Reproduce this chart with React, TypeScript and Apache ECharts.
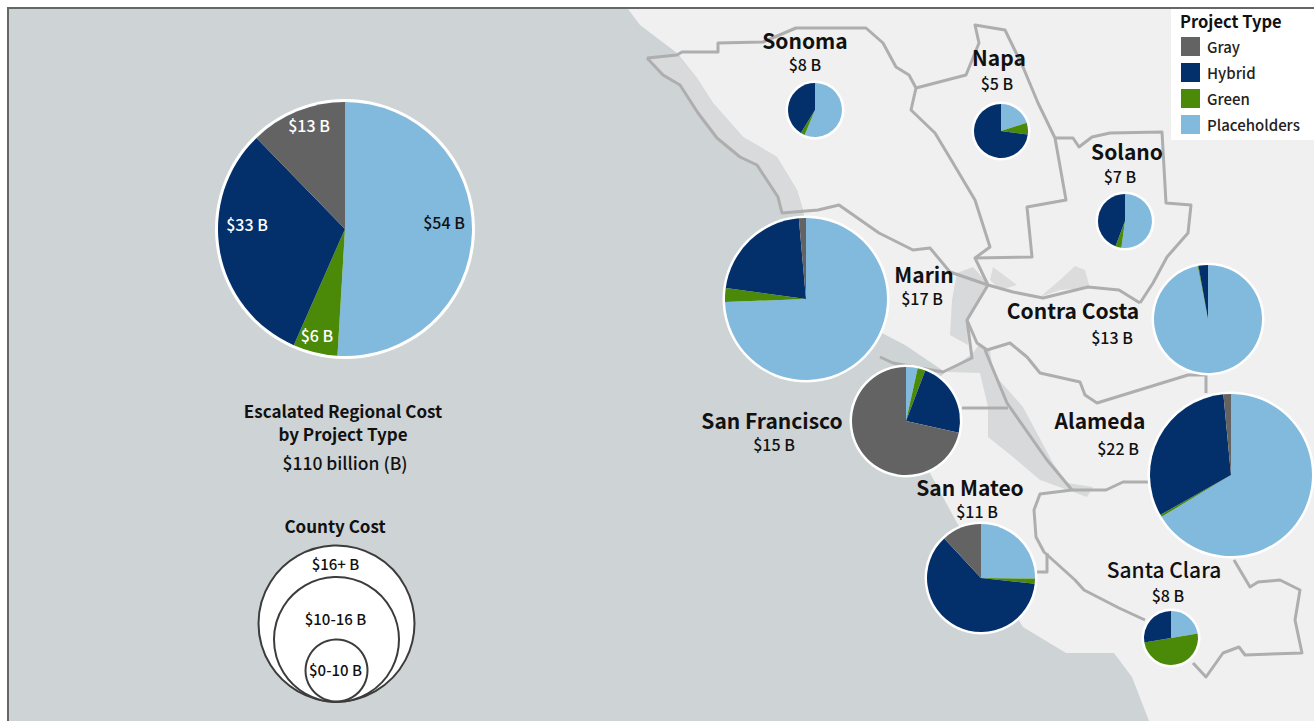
import React, { useEffect, useRef } from "react";
import * as echarts from "echarts";

const FONT = '"Noto Sans CJK JP", "Noto Sans", sans-serif';

// ---- data ($ billions)
const projectTypes = ["Placeholders", "Green", "Hybrid", "Gray"];
const legendOrder = ["Gray", "Hybrid", "Green", "Placeholders"];
const typeColors = ["#82badd", "#4a8a08", "#03306b", "#636363"];

const regionValues = [54, 6, 33, 13];
const regionLabels = ["$54 B", "$6 B", "$33 B", "$13 B"];

const counties = ["Sonoma", "Napa", "Solano", "Marin", "Contra Costa", "San Francisco", "San Mateo", "Alameda", "Santa Clara"];
const countyTotals = ["$8 B", "$5 B", "$7 B", "$17 B", "$13 B", "$15 B", "$11 B", "$22 B", "$8 B"];
const placeholders = [4.5, 1.0, 3.65, 12.65, 12.6, 0.52, 2.77, 14.6, 1.79];
const green = [0.2, 0.35, 0.25, 0.47, 0.03, 0.35, 0.17, 0.1, 4.0];
const hybrid = [3.3, 3.65, 3.1, 3.64, 0.37, 3.4, 6.75, 6.97, 2.21];
const gray = [0, 0, 0, 0.24, 0, 10.73, 1.31, 0.33, 0];

// ---- layout
const countyCenters = [[815, 110], [1001, 131], [1125, 221], [806, 299], [1208, 319], [906, 421], [981, 578], [1231, 475], [1171, 638]];
const countyRadii = [27, 27, 27, 81, 54, 54, 54, 81, 27];
const nameAnchors = [[805, 40], [999, 57], [1127, 151], [924, 274], [1073, 310], [772, 420], [970, 487], [1100, 420], [1164, 569]];
const totalAnchors = [[805, 64], [997, 83], [1120, 176], [922, 298], [1112, 337], [774, 444], [977, 511], [1118, 448], [1168, 595]];
const regionLabelAnchors = [[444, 222], [317, 335], [247, 224], [309, 125]];

// ---- basemap geometry
const land = [[628, 9], [1314, 9], [1314, 721], [1149, 721], [1132, 677], [1114, 653], [1066, 653], [1023, 627], [957, 523], [931, 475], [900, 420], [945, 372], [905, 345], [880, 332], [820, 300], [803, 210], [797, 190], [777, 157], [743, 137], [713, 103], [697, 78], [677, 53], [640, 25]];
const coastStrip = [[677, 55], [697, 78], [713, 103], [743, 137], [777, 157], [797, 190], [803, 210], [782, 213], [778, 197], [757, 165], [740, 157], [717, 138], [698, 113], [680, 85], [663, 75], [650, 60]];
const bayMouth = [[952, 300], [957, 273], [973, 267], [988, 284], [967, 320], [968, 345], [950, 335]];
const bayCentral = [[947, 372], [973, 353], [980, 343], [990, 350], [993, 373], [1023, 407], [1053, 463], [1067, 483], [1093, 487], [1087, 497], [1040, 480], [1013, 457], [988, 437], [988, 407], [980, 373]];
const straitEast = [[1040, 297], [1060, 280], [1075, 266], [1085, 270], [1090, 288], [1060, 290]];
const straitNorth = [[993, 267], [1017, 285], [1000, 290], [990, 280]];
const countyLines = [
  [[647, 58], [677, 55], [682, 52], [718, 52], [718, 43], [763, 42], [796, 28], [866, 28], [883, 43], [896, 67], [909, 75], [916, 88], [911, 110], [935, 133], [953, 163], [975, 200], [990, 247], [975, 258], [988, 285], [1013, 292], [1043, 298], [1088, 287], [1119, 290], [1140, 303]],
  [[647, 58], [663, 75], [680, 85], [698, 113], [717, 138], [740, 157], [757, 165], [778, 197], [782, 213], [818, 210], [839, 205], [879, 233], [913, 250], [930, 248], [950, 272], [988, 285]],
  [[916, 88], [966, 75], [979, 43], [975, 25], [1005, 30], [1023, 67], [1038, 103], [1055, 138], [1066, 200], [1027, 207], [1032, 257], [975, 258]],
  [[1055, 138], [1073, 138], [1079, 147], [1092, 137], [1110, 133], [1162, 132], [1166, 203], [1191, 205], [1188, 233], [1167, 257], [1153, 283], [1140, 303]],
  [[988, 285], [967, 320], [972, 358], [943, 372], [893, 363], [880, 357]],
  [[962, 408], [1008, 408]],
  [[967, 320], [977, 343], [987, 350], [1010, 343], [1027, 357], [1040, 373], [1080, 382], [1085, 395], [1097, 403], [1188, 375], [1206, 375], [1206, 393]],
  [[985, 350], [1007, 403], [1047, 460], [1072, 490]],
  [[1072, 490], [1106, 490], [1123, 482], [1150, 482]],
  [[1072, 490], [1040, 494], [1034, 510], [1036, 537], [1044, 552], [1075, 580], [1084, 590], [1119, 608], [1145, 620]],
  [[1036, 572], [1047, 572], [1047, 553]],
  [[1193, 663], [1206, 677], [1223, 653], [1239, 647], [1245, 655], [1302, 653], [1295, 620], [1300, 590], [1280, 580], [1258, 582], [1250, 587], [1234, 560]],
];

const bubbles = [
  { cx: 336.5, cy: 623.5, r: 78, label: "$16+ B", ly: 564 },
  { cx: 336.5, cy: 639.5, r: 62.5, label: "$10-16 B", ly: 619 },
  { cx: 336.5, cy: 670.5, r: 31, label: "$0-10 B", ly: 670 },
];

const txt = (x: number, y: number, text: string, size: number, weight: any, fill = "#111", align = "center", z = 10) => ({
  type: "text", x, y, z, silent: true,
  style: { text, fill, font: `${weight} ${size}px ${FONT}`, textAlign: align, textVerticalAlign: "middle" },
});
const poly = (points: number[][], fill: string, z = 0) => ({ type: "polygon", z, silent: true, shape: { points }, style: { fill } });

function buildOption() {
  const graphics: any[] = [
    { type: "rect", z: 0, silent: true, shape: { x: 8, y: 9, width: 1306, height: 712 }, style: { fill: "#ced3d5" } },
    poly(land, "#f0f0f0"),
    poly(coastStrip, "#d9dadb"),
    poly(bayMouth, "#d8d9da"),
    poly(bayCentral, "#d8d9da"),
    poly(straitEast, "#dcdcdd"),
    poly(straitNorth, "#dcdcdd"),
  ];
  countyLines.forEach((points) =>
    graphics.push({ type: "polyline", z: 0, silent: true, shape: { points }, style: { stroke: "#aeaeae", lineWidth: 3, fill: "none", lineJoin: "round" } })
  );
  graphics.push(
    { type: "rect", z: 0, silent: true, shape: { x: 7, y: 7, width: 1307, height: 2 }, style: { fill: "#666666" } },
    { type: "rect", z: 0, silent: true, shape: { x: 7, y: 7, width: 2, height: 714 }, style: { fill: "#666666" } },
    { type: "rect", z: 3, silent: true, shape: { x: 1171, y: 9, width: 143, height: 131 }, style: { fill: "#ffffff" } },
    txt(1180, 21, "Project Type", 16.5, 700, "#111", "left"),
  );
  // white halos under the pies
  countyCenters.forEach(([cx, cy], i) =>
    graphics.push({ type: "circle", z: 1, silent: true, shape: { cx, cy, r: countyRadii[i] + 2.5 }, style: { fill: "#fff" } })
  );
  graphics.push({ type: "circle", z: 1, silent: true, shape: { cx: 345, cy: 229, r: 130 }, style: { fill: "#fff" } });

  counties.forEach((name, i) => {
    graphics.push(txt(nameAnchors[i][0], nameAnchors[i][1], name, 21, name === "Santa Clara" ? 500 : 700));
    graphics.push(txt(totalAnchors[i][0], totalAnchors[i][1], countyTotals[i], 16, 500));
  });

  graphics.push(
    txt(343, 410, "Escalated Regional Cost", 17, 700),
    txt(343, 433, "by Project Type", 17, 700),
    txt(345, 462, "$110 billion (B)", 17.5, 500),
    txt(335, 525, "County Cost", 17, 700),
  );
  bubbles.forEach((b) => {
    graphics.push({ type: "circle", z: 5, silent: true, shape: { cx: b.cx, cy: b.cy, r: b.r }, style: { fill: "#fff", stroke: "#3c3c3c", lineWidth: 2 } });
  });
  bubbles.forEach((b) => graphics.push(txt(b.cx - 1, b.ly - 1, b.label, 15, 500)));

  const countySeries = counties.map((name, i) => ({
    type: "pie", name, silent: true, z: 2,
    center: countyCenters[i], radius: countyRadii[i],
    startAngle: 90, clockwise: true, minAngle: 0,
    label: { show: false }, labelLine: { show: false },
    itemStyle: { borderWidth: 0 },
    data: projectTypes.map((t, k) => ({ name: t, value: [placeholders, green, hybrid, gray][k][i] })),
  }));

  const regionSeries = {
    type: "pie", name: "Region", silent: true, z: 2,
    center: [345, 229], radius: 127,
    startAngle: 90, clockwise: true,
    labelLine: { show: false },
    label: { show: true, position: "inside", fontFamily: FONT, fontSize: 16, fontWeight: 500 },
    labelLayout: (p: any) => ({ x: regionLabelAnchors[p.dataIndex][0], y: regionLabelAnchors[p.dataIndex][1], align: "center", verticalAlign: "middle" }),
    data: projectTypes.map((t, k) => ({
      name: t, value: regionValues[k],
      label: { formatter: regionLabels[k], color: k === 0 ? "#111" : "#fff" },
    })),
  };

  return {
    animation: false,
    backgroundColor: "#ffffff",
    color: typeColors,
    graphic: { elements: graphics },
    legend: {
      orient: "vertical", left: 1181, top: 37, padding: 0,
      itemWidth: 19, itemHeight: 19, itemGap: 7, icon: "rect", selectedMode: false,
      data: legendOrder,
      textStyle: { fontFamily: FONT, fontSize: 15, fontWeight: 500, color: "#222", padding: [0, 0, 0, 2] },
    },
    series: [regionSeries, ...countySeries],
  };
}

export default function App() {
  const ref = useRef<HTMLDivElement>(null);
  useEffect(() => {
    const chart = echarts.init(ref.current!, undefined, { renderer: "svg" });
    chart.setOption(buildOption() as any);
    return () => chart.dispose();
  }, []);
  return <div ref={ref} style={{ position: "fixed", left: 0, top: 0, width: 1314, height: 721, overflow: "hidden" }} />;
}
